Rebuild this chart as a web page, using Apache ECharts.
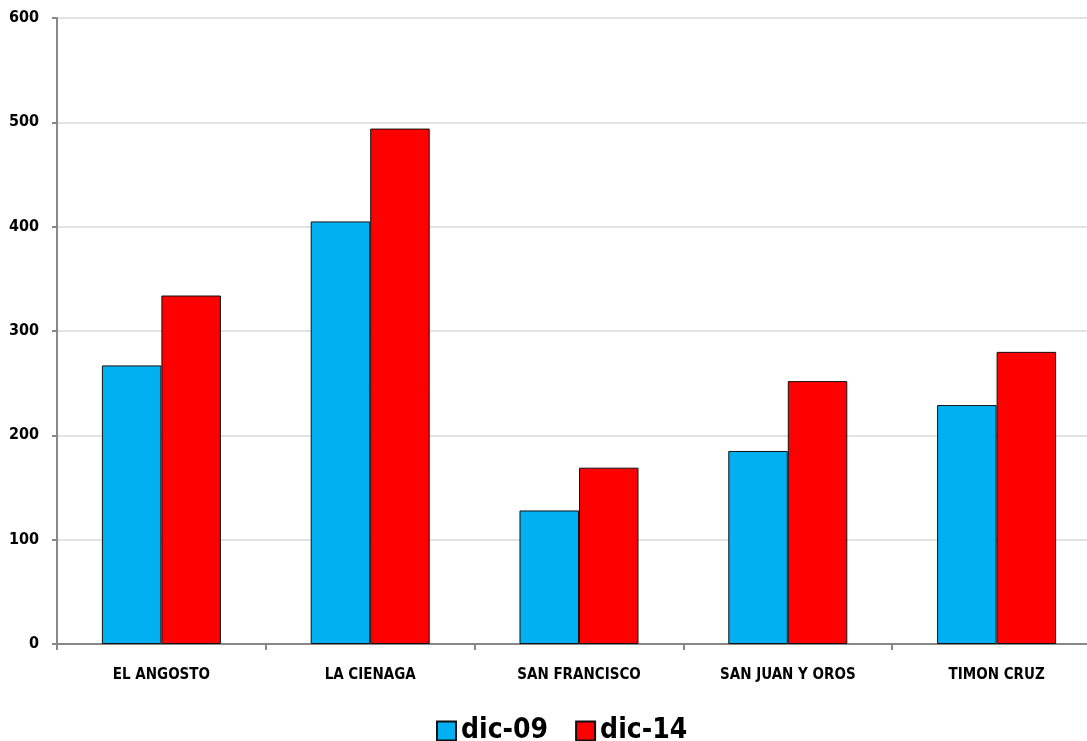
<!DOCTYPE html>
<html><head><meta charset="utf-8">
<script src="https://cdn.jsdelivr.net/npm/echarts@6/dist/echarts.min.js"></script>
<style>html,body{margin:0;padding:0;background:#fff;overflow:hidden;width:1087px;height:741px}#c{width:1101px;height:741px}</style>
</head><body><div id="c"></div>
<script>
const categories = ['EL ANGOSTO', 'LA CIENAGA', 'SAN FRANCISCO', 'SAN JUAN Y OROS', 'TIMON CRUZ'];
const dic09 = [267, 405, 128, 185, 229];
const dic14 = [334, 494, 169, 252, 280];
const seriesNames = ['dic-09', 'dic-14'];
const FONT = '"DejaVu Sans Condensed", "Liberation Sans", sans-serif';
const chart = echarts.init(document.getElementById('c'));
chart.setOption({
  animation: false,
  grid: {left: 57, right: 0, top: 18, bottom: 97, containLabel: false},
  legend: {
    top: 712, left: 431, icon: 'rect', itemWidth: 19, itemHeight: 19, itemGap: 27,
    textStyle: {fontFamily: FONT, fontWeight: 'bold', fontSize: 28, color: '#000'},
    data: seriesNames
  },
  xAxis: {
    type: 'category', data: categories,
    axisLine: {lineStyle: {color: '#888', width: 2}},
    axisTick: {show: true, length: 6, lineStyle: {color: '#888', width: 2}},
    axisLabel: {fontFamily: FONT, fontWeight: 'bold', fontSize: 15, color: '#000', margin: 24}
  },
  yAxis: {
    type: 'value', min: 0, max: 600, interval: 100,
    axisLine: {show: true, lineStyle: {color: '#888', width: 2}},
    axisTick: {show: true, length: 5, lineStyle: {color: '#888', width: 2}},
    splitLine: {lineStyle: {color: '#d9d9d9', width: 1.5}},
    axisLabel: {fontFamily: FONT, fontWeight: 'bold', fontSize: 16, color: '#000', margin: 18}
  },
  series: [
    {name: seriesNames[0], type: 'bar', data: dic09, barGap: '0%', barCategoryGap: '43%',
     itemStyle: {color: '#00b0f0', borderColor: '#111', borderWidth: 1}},
    {name: seriesNames[1], type: 'bar', data: dic14, barGap: '0%', barCategoryGap: '43%',
     itemStyle: {color: '#ff0000', borderColor: '#111', borderWidth: 1}}
  ]
});
</script></body></html>
